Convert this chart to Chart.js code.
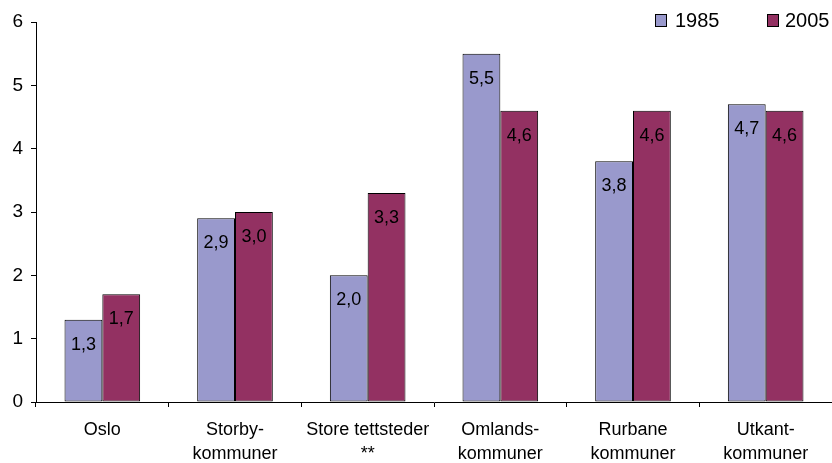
<!DOCTYPE html>
<html>
<head>
<meta charset="utf-8">
<script src="https://cdn.jsdelivr.net/npm/chart.js@4"></script>
<style>
  html, body { margin: 0; padding: 0; background: #fff; }
  #wrap { width: 832px; height: 463px; }
</style>
</head>
<body>
<div id="wrap"><canvas id="barChart" width="832" height="463"></canvas></div>
<script>
var categories = [
    ['Oslo'],
    ['Storby-', 'kommuner'],
    ['Store tettsteder', '**'],
    ['Omlands-', 'kommuner'],
    ['Rurbane', 'kommuner'],
    ['Utkant-', 'kommuner']
];
var years = ['1985', '2005'];
var values1985 = [1.3, 2.9, 2.0, 5.5, 3.8, 4.7];
var values2005 = [1.7, 3.0, 3.3, 4.6, 4.6, 4.6];
var yTicks = [0, 1, 2, 3, 4, 5, 6];
var colors = ['#9999CC', '#933162'];

var fontFamily = '"Liberation Sans", Arial, sans-serif';

// Value labels inside the top of each bar, with decimal comma.
const barLabels = {
    id: 'barLabels',
    afterDatasetsDraw(chart) {
        const ctx = chart.ctx;
        ctx.save();
        ctx.font = '18px ' + fontFamily;
        ctx.fillStyle = '#000';
        ctx.textAlign = 'center';
        ctx.textBaseline = 'middle';
        chart.data.datasets.forEach((ds, i) => {
            chart.getDatasetMeta(i).data.forEach((bar, j) => {
                ctx.fillText(ds.data[j].toFixed(1).replace('.', ','), bar.x, bar.y + 25);
            });
        });
        ctx.restore();
    }
};

// Legend in the top right corner.
const cornerLegend = {
    id: 'cornerLegend',
    afterDraw(chart) {
        const ctx = chart.ctx;
        const boxX = [655, 767];
        const textX = [675, 785];
        ctx.save();
        ctx.font = '20px ' + fontFamily;
        ctx.textBaseline = 'middle';
        chart.data.datasets.forEach((ds, i) => {
            ctx.fillStyle = ds.backgroundColor;
            ctx.fillRect(boxX[i] + 0.5, 14.5, 11, 12);
            ctx.strokeStyle = '#000';
            ctx.lineWidth = 1;
            ctx.strokeRect(boxX[i] + 0.5, 14.5, 11, 12);
            ctx.fillStyle = '#000';
            ctx.fillText(ds.label, textX[i], 21);
        });
        ctx.restore();
    }
};

const ctx = document.getElementById('barChart').getContext('2d');
const myChart = new Chart(ctx, {
    type: 'bar',
    data: {
        labels: categories,
        datasets: [{
            label: years[0],
            data: values1985,
            backgroundColor: colors[0],
            borderColor: '#000',
            borderWidth: 1,
            borderSkipped: false
        }, {
            label: years[1],
            data: values2005,
            backgroundColor: colors[1],
            borderColor: '#000',
            borderWidth: 1,
            borderSkipped: false
        }]
    },
    options: {
        responsive: false,
        animation: false,
        events: [],
        layout: { padding: { top: 22, right: 0, bottom: 0, left: 0 } },
        datasets: {
            bar: { categoryPercentage: 0.57, barPercentage: 1 }
        },
        plugins: {
            legend: { display: false },
            tooltip: { enabled: false }
        },
        scales: {
            x: {
                grid: {
                    display: true,
                    drawOnChartArea: false,
                    offset: true,
                    tickLength: 5,
                    color: '#000'
                },
                border: { color: '#000' },
                ticks: {
                    color: '#000',
                    padding: 12,
                    maxRotation: 0,
                    autoSkip: false,
                    font: { family: fontFamily, size: 18, lineHeight: 1.28 }
                },
                afterFit(scale) { scale.height = 61; }
            },
            y: {
                min: 0,
                max: 6,
                afterBuildTicks(scale) {
                    scale.ticks = yTicks.map(v => ({ value: v }));
                },
                grid: {
                    display: true,
                    drawOnChartArea: false,
                    tickLength: 5,
                    color: '#000'
                },
                border: { color: '#000' },
                ticks: {
                    color: '#000',
                    padding: 8,
                    font: { family: fontFamily, size: 19 }
                },
                afterFit(scale) { scale.width = 36; }
            }
        }
    },
    plugins: [barLabels, cornerLegend]
});
</script>
</body>
</html>
